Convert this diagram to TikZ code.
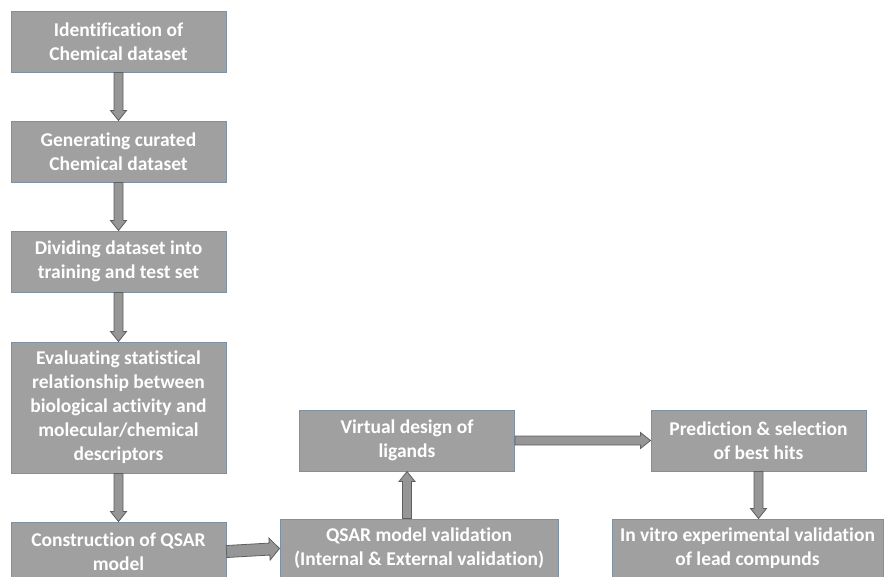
\documentclass[tikz,border=0pt]{standalone}
\usepackage{fontspec}
\setmainfont{Carlito}[Ligatures={NoCommon}]
\usetikzlibrary{calc,positioning}
\definecolor{boxgray}{RGB}{160,160,160}
\definecolor{boxedge}{RGB}{125,145,165}
\definecolor{arrgray}{RGB}{150,150,150}
\definecolor{arredge}{RGB}{95,95,95}

% block arrow: half shaft width, half head width, from, to
\newcommand{\blockarrow}[4]{%
  \coordinate (ha) at ($(#4)!10pt!(#3)$);
  \draw[blockarr] ($(#3)!#1!90:(#4)$) -- ($(ha)!#1!90:(#4)$) -- ($(ha)!#2!90:(#4)$)
    -- (#4) -- ($(ha)!#2!-90:(#4)$) -- ($(ha)!#1!-90:(#4)$) -- ($(#3)!#1!-90:(#4)$) -- cycle;}

\tikzset{
  stage/.style={draw=boxedge, line width=1pt, fill=boxgray, text=white,
    font=\bfseries\fontsize{19.5}{24}\selectfont, align=center, inner sep=0pt,
    minimum width=215pt, minimum height=61pt},
  blockarr/.style={draw=arredge, fill=arrgray, line width=0.8pt, line join=miter}
}

\begin{document}
\begin{tikzpicture}[x=1pt,y=-1pt,node distance=48pt]
  \useasboundingbox (0,0) rectangle (885,576);

  % left column
  \node[stage] (ident) at (118.5,41.5) {Identification of\\Chemical dataset};
  \node[stage, below=of ident] (curate) {Generating curated\\Chemical dataset};
  \node[stage, below=of curate] (divide) {Dividing dataset into\\training and test set};
  \node[stage, below=49pt of divide, minimum height=131pt] (evaluate)
    {Evaluating statistical\\relationship between\\biological activity and\\molecular/chemical\\descriptors};
  \node[stage, below=of evaluate, minimum height=59pt] (construct) {Construction of QSAR\\model};

  % bottom row and upper row
  \node[stage, minimum width=278pt, minimum height=59pt] (validate) at (419,548.5)
    {QSAR model validation\\(Internal \& External validation)};
  \node[stage] (design) at (407,440.5) {Virtual design of\\ligands};
  \node[stage] (predict) at (758.5,440.5) {Prediction \& selection\\of best hits};
  \node[stage, minimum width=271pt, minimum height=59pt] (vitro) at (747.5,548.5)
    {In vitro experimental validation\\of lead compunds};

  \coordinate (vtop) at (validate.north -| design.south);
  \coordinate (ptop) at (vitro.north -| predict.south);

  \blockarrow{4.5pt}{8pt}{ident.south}{curate.north}
  \blockarrow{4.5pt}{8pt}{curate.south}{divide.north}
  \blockarrow{4.5pt}{8pt}{divide.south}{evaluate.north}
  \blockarrow{4.5pt}{8pt}{evaluate.south}{construct.north}
  \blockarrow{6pt}{11pt}{construct.east}{validate.west}
  \blockarrow{4.5pt}{8pt}{vtop}{design.south}
  \blockarrow{4.5pt}{8pt}{design.east}{predict.west}
  \blockarrow{4.5pt}{8pt}{predict.south}{ptop}
\end{tikzpicture}
\end{document}
